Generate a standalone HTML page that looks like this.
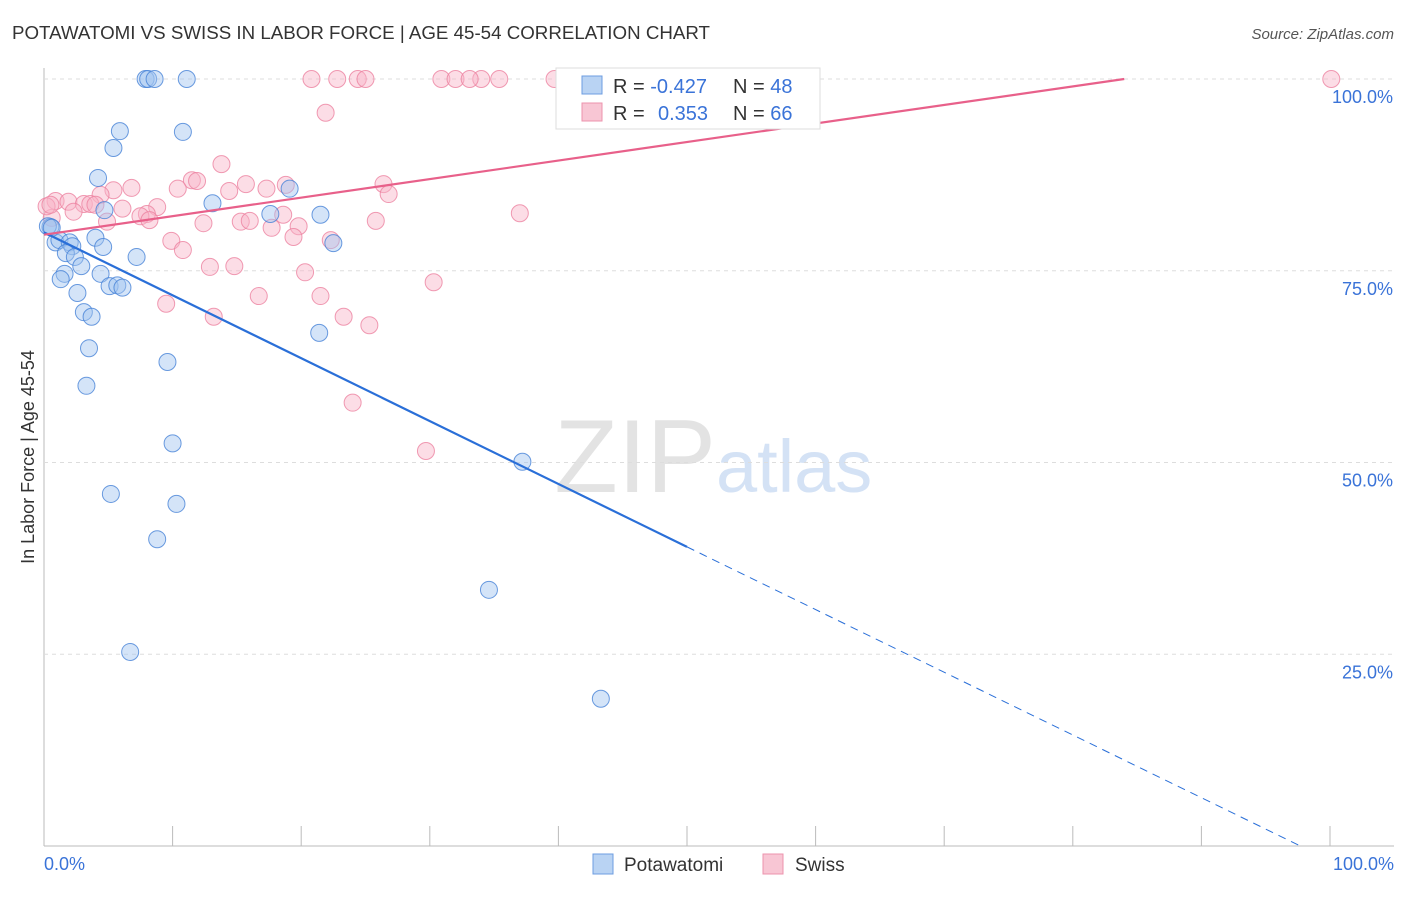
<!DOCTYPE html>
<html><head><meta charset="utf-8"><style>
body{margin:0;background:#fff;font-family:"Liberation Sans",sans-serif;}
svg text{font-family:"Liberation Sans",sans-serif;}
</style></head><body>
<svg id="chart" width="1406" height="892">
<text x="12" y="39" font-size="18" fill="#333" textLength="698" lengthAdjust="spacingAndGlyphs">POTAWATOMI VS SWISS IN LABOR FORCE | AGE 45-54 CORRELATION CHART</text>
<text x="1394" y="39" font-size="15" fill="#555" font-style="italic" text-anchor="end">Source: ZipAtlas.com</text>
<text x="716" y="492" font-size="104" fill="#e3e3e3" text-anchor="end" font-family="Liberation Serif">ZIP</text>
<text x="716" y="492" font-size="74" fill="#d4e2f5">atlas</text>
<g id="grid"></g>
<g id="marks"></g>
<text transform="translate(34,457) rotate(-90)" font-size="18" fill="#333" text-anchor="middle">In Labor Force | Age 45-54</text>
<g>
<rect x="556" y="68" width="264" height="61" fill="#fff" stroke="#ddd"/>
<rect x="582" y="76" width="20" height="18" fill="#b9d3f3" stroke="#6d9de0"/>
<rect x="582" y="103" width="20" height="18" fill="#f8c6d4" stroke="#ec93ad"/>
<text x="613" y="93" font-size="20" fill="#333">R = <tspan fill="#3a73d8">-0.427</tspan><tspan x="733">N = </tspan><tspan fill="#3a73d8">48</tspan></text>
<text x="613" y="120" font-size="20" fill="#333">R = <tspan x="658" fill="#3a73d8">0.353</tspan><tspan x="733">N = </tspan><tspan fill="#3a73d8">66</tspan></text>
</g>
<g>
<rect x="593" y="854" width="20" height="20" fill="#b9d3f3" stroke="#6d9de0"/>
<text x="624" y="871" font-size="19" fill="#333">Potawatomi</text>
<rect x="763" y="854" width="20" height="20" fill="#f8c6d4" stroke="#ec93ad"/>
<text x="795" y="871" font-size="19" fill="#333">Swiss</text>
</g>
</svg>
<script>
const yTicks=[25,50,75,100];
const yTickLabels=["25.0%","50.0%","75.0%","100.0%"];
const xTicks=[0,10,20,30,40,50,60,70,80,90,100];
const bluePx=[[145,79],[148,79],[154,79],[187,79],[120,131],[183,132],[114,148],[98,178],[212,203],[289,189],[321,215],[105,210],[270,214],[50,227],[55,242],[60,240],[70,242],[96,238],[72,246],[103,247],[66,253],[75,257],[137,257],[81,266],[64,274],[100,274],[61,279],[109,286],[117,285],[122,288],[77,293],[84,312],[92,317],[333,243],[319,333],[89,348],[167,362],[86,386],[172,443],[522,462],[111,494],[177,504],[157,539],[489,590],[130,652],[601,699],[48,226],[52,228]];
const pinkPx=[[311,79],[337,79],[358,79],[366,79],[442,79],[455,79],[481,79],[470,79],[499,79],[555,79],[579,79],[652,79],[1331,79],[326,113],[222,164],[192,180],[197,181],[132,188],[113,190],[178,189],[229,191],[246,184],[267,189],[286,185],[384,184],[389,194],[101,195],[56,201],[68,202],[84,204],[90,204],[95,205],[157,207],[122,209],[147,214],[73,212],[141,216],[150,220],[107,222],[203,223],[241,222],[250,221],[283,215],[520,213],[376,221],[272,228],[299,226],[293,237],[331,240],[171,241],[183,250],[52,218],[46,206],[305,272],[210,267],[234,266],[259,296],[320,296],[434,282],[166,304],[214,317],[343,317],[370,325],[353,403],[426,451],[50,205]];
// data values (percent) derived from the picture
const blueX=bluePx.map(p=>+((p[0]-44)/12.86).toFixed(1));
const blueY=bluePx.map(p=>+((846-p[1])/7.67).toFixed(1));
const pinkX=pinkPx.map(p=>+((p[0]-44)/12.86).toFixed(1));
const pinkY=pinkPx.map(p=>+((846-p[1])/7.67).toFixed(1));
const blueTrend=[[0,80.0],[50,39.0],[97.7,0]];
const pinkTrend=[[0,79.7],[84,100]];

const X=v=>44+v*12.86, Y=v=>846-v*7.67;
const NS="http://www.w3.org/2000/svg";
function mk(t,a,parent){const e=document.createElementNS(NS,t);for(const k in a)e.setAttribute(k,a[k]);parent.appendChild(e);return e;}
const grid=document.getElementById('grid'), marks=document.getElementById('marks');
let ax=mk('line',{x1:44,y1:68,x2:44,y2:846,stroke:'#bbb'},grid);

let bx=mk('line',{x1:44,y1:846,x2:1394,y2:846,stroke:'#bbb'},grid);

yTicks.forEach((t,i)=>{
 let g=mk('line',{x1:44,y1:Y(t),x2:1394,y2:Y(t),stroke:'#ddd','stroke-dasharray':'4,4'},grid);
 
 let tx=mk('text',{x:1393,y:Y(t)+24,'font-size':18,fill:'#3a73d8','text-anchor':'end'},grid);
 tx.textContent=yTickLabels[i];
 
});
xTicks.forEach(t=>{
 let l=mk('line',{x1:X(t*1),y1:826,x2:X(t*1),y2:846,stroke:'#bbb'},grid);
 
});
let xl0=mk('text',{x:44,y:870,'font-size':18,fill:'#3a73d8'},grid);xl0.textContent='0.0%';

let xl1=mk('text',{x:1394,y:870,'font-size':18,fill:'#3a73d8','text-anchor':'end'},grid);xl1.textContent='100.0%';

pinkX.forEach((x,i)=>{
 let c=mk('circle',{cx:X(x),cy:Y(pinkY[i]),r:8.5,fill:'rgba(248,180,200,0.45)',stroke:'rgba(236,130,160,0.8)','stroke-width':1},marks);
 
});
blueX.forEach((x,i)=>{
 let c=mk('circle',{cx:X(x),cy:Y(blueY[i]),r:8.5,fill:'rgba(160,196,240,0.45)',stroke:'rgba(70,130,215,0.8)','stroke-width':1},marks);
 
});
let bl=mk('line',{x1:X(blueTrend[0][0]),y1:Y(blueTrend[0][1]),x2:X(blueTrend[1][0]),y2:Y(blueTrend[1][1]),stroke:'#2a6fd8','stroke-width':2.2},marks);

let bd=mk('line',{x1:X(blueTrend[1][0]),y1:Y(blueTrend[1][1]),x2:X(blueTrend[2][0]),y2:Y(blueTrend[2][1]),stroke:'#2a6fd8','stroke-width':1,'stroke-dasharray':'8,6'},marks);

let pl=mk('line',{x1:X(pinkTrend[0][0]),y1:Y(pinkTrend[0][1]),x2:X(pinkTrend[1][0]),y2:Y(pinkTrend[1][1]),stroke:'#e8608a','stroke-width':2.2},marks);

</script>
</body></html>
